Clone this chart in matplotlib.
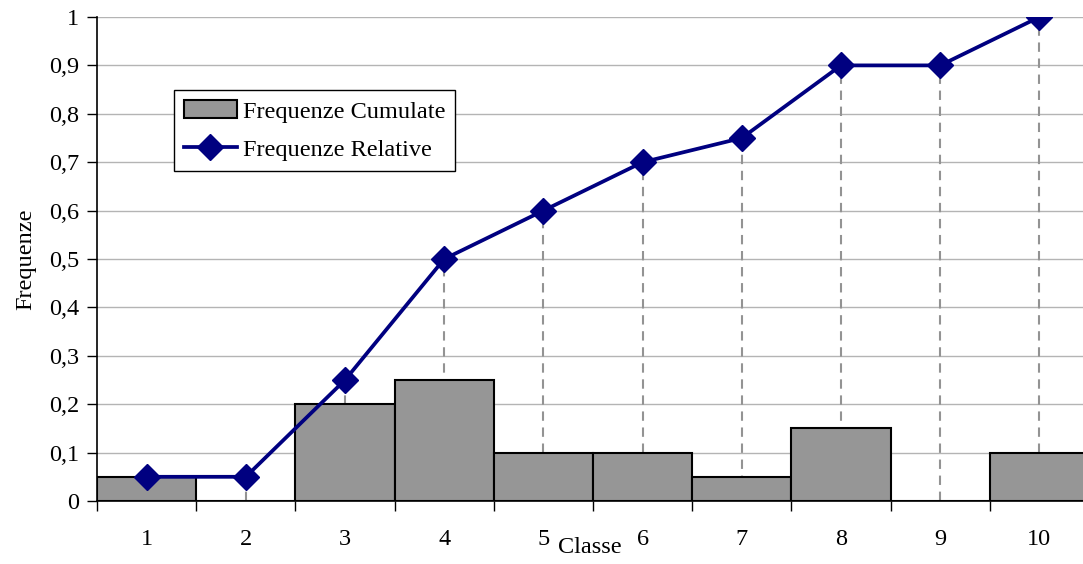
import matplotlib
matplotlib.use("Agg")
import matplotlib.pyplot as plt
from matplotlib.patches import Patch
from matplotlib.lines import Line2D

classes = [1, 2, 3, 4, 5, 6, 7, 8, 9, 10]
cumulative_bars = [0.05, 0.0, 0.20, 0.25, 0.10, 0.10, 0.05, 0.15, 0.0, 0.10]
relative_line = [0.05, 0.05, 0.25, 0.50, 0.60, 0.70, 0.75, 0.90, 0.90, 1.00]
y_ticks = [0, 0.1, 0.2, 0.3, 0.4, 0.5, 0.6, 0.7, 0.8, 0.9, 1.0]
y_tick_labels = ["0", "0,1", "0,2", "0,3", "0,4", "0,5", "0,6", "0,7", "0,8", "0,9", "1"]

plt.rcParams['font.family'] = ['Liberation Serif', 'DejaVu Serif']
plt.rcParams['font.size'] = 17.5

fig = plt.figure(figsize=(10.83, 5.64), dpi=100)
ax = fig.add_axes([97/1083, 63/564, 992/1083, 484/564])

navy = '#000080'
bar_gray = '#969696'

# drop lines
for x, y in zip(classes, relative_line):
    ax.plot([x, x], [0, y], ls=(0, (4.5, 3.2)), color='#939393', lw=1.5, zorder=1)

ax.bar(classes, cumulative_bars, width=1.0, color=bar_gray, edgecolor='black',
       linewidth=1.5, zorder=2)
ax.plot(classes, relative_line, color=navy, lw=2.7, marker='D', markersize=13,
        zorder=4)

ax.set_xlim(0.5, 10.5)
ax.set_ylim(0, 1)
ax.set_yticks(y_ticks)
ax.set_yticklabels(y_tick_labels)
ax.yaxis.grid(True, color='#b4b4b4', lw=1.0, zorder=0)
ax.set_axisbelow(True)

ax.set_xticks(classes)
ax.set_xticklabels([str(c) for c in classes])
ax.tick_params(axis='x', which='major', length=0, pad=20)
ax.set_xticks([c + 0.5 for c in classes[:-1]] + [0.5], minor=True)
ax.tick_params(axis='x', which='minor', length=7, width=1.0, direction='out')
ax.tick_params(axis='y', length=7, width=1.0, direction='out', pad=6)

for s in ['top', 'right']:
    ax.spines[s].set_visible(False)
ax.spines['left'].set_linewidth(1.2)
ax.spines['bottom'].set_linewidth(1.2)

ax.set_ylabel('Frequenze', labelpad=9)
ax.text(0.497, -0.097, 'Classe', transform=ax.transAxes, ha='center', va='center')

handles = [Patch(facecolor=bar_gray, edgecolor='black', linewidth=1.5),
           Line2D([], [], color=navy, lw=2.7, marker='D', markersize=13)]
leg = ax.legend(handles, ['Frequenze Cumulate', 'Frequenze Relative'],
                loc='upper left', bbox_to_anchor=(0.0776, 0.849),
                borderaxespad=0, frameon=True, fancybox=False, framealpha=1,
                edgecolor='black', handlelength=2.2, labelspacing=0.65,
                handletextpad=0.25, borderpad=0.4, handleheight=0.8)
leg.get_frame().set_linewidth(1.0)

fig.savefig('out.png', dpi=100)
